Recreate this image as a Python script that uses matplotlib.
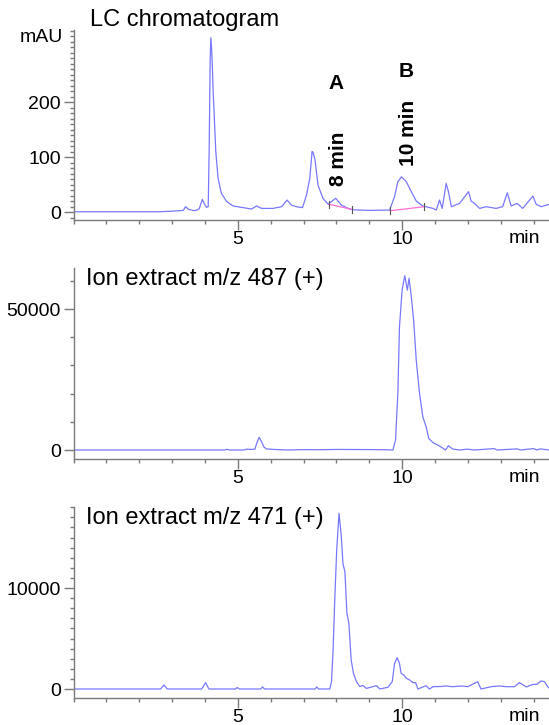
import numpy as np
import matplotlib
matplotlib.use("Agg")
import matplotlib.pyplot as plt
from matplotlib.ticker import MultipleLocator, FixedLocator

plt.rcParams['font.family'] = ['Liberation Sans', 'DejaVu Sans']
LINE = "#7878ff"; BASE = "#ff70d0"; AX = "#7a7a7a"

# ---- LC chromatogram (min, mAU) ----
lc_t = [0.0, 2.6, 3.0, 3.25, 3.34, 3.41, 3.5, 3.67, 3.78, 3.83, 3.92, 3.98, 4.05, 4.10, 4.13, 4.16,
        4.18, 4.21, 4.25, 4.33, 4.40, 4.50, 4.66, 4.86, 5.16, 5.42, 5.57, 5.72, 6.07, 6.33, 6.50,
        6.63, 6.78, 6.97, 7.09, 7.19, 7.26, 7.29, 7.35, 7.44, 7.59, 7.75, 7.85, 7.98, 8.15, 8.40,
        8.51, 9.0, 9.62, 9.77, 9.87, 9.98, 10.13, 10.28, 10.43, 10.63, 10.94, 11.04, 11.14, 11.22,
        11.34, 11.41, 11.50, 11.75, 12.02, 12.10, 12.2, 12.36, 12.56, 12.86, 13.06, 13.2, 13.32,
        13.50, 13.67, 13.98, 14.08, 14.23, 14.47]
lc_y = [0.5, 0.5, 1.5, 2.5, 3, 9.7, 5, 2.4, 4, 6.5, 23, 15, 8.5, 10, 120, 280,
        317, 290, 219, 110, 61, 34, 19, 11, 8, 5.5, 11, 6.6, 6.6, 9.7, 21.8,
        12.7, 9.7, 8, 31, 61, 110, 108, 95, 49, 25, 14, 19, 25, 12.7, 5.5,
        4, 3, 3.6, 28, 55, 64, 55, 37, 20, 11, 6.6, 3.6, 21.8, 6.6,
        52, 37, 9.7, 15.7, 37, 20, 15.7, 6.6, 9.7, 6.6, 9.7, 35, 11,
        15.7, 6.6, 29, 14, 9.7, 14]
baseA_t = [7.78, 8.46]; baseA_y = [14, 5]
baseB_t = [9.64, 10.66]; baseB_y = [2.4, 9.6]

# ---- ion extract m/z 487 ----
i487_t = [0, 4.6, 4.66, 4.75, 5.2, 5.26, 5.4, 5.52, 5.58, 5.65, 5.72, 5.80, 5.87, 6.1, 6.5, 7.0,
          7.5, 8.0, 9.0, 9.5, 9.72, 9.80, 9.87, 9.92, 10.0, 10.08, 10.16, 10.21, 10.28, 10.35,
          10.43, 10.53, 10.63, 10.73, 10.81, 10.94, 11.14, 11.32, 11.41, 11.54, 11.75, 11.98,
          12.2, 12.8, 12.9, 13.5, 13.6, 14.0, 14.1, 14.2, 14.47]
i487_y = [0, 0, 250, 0, 0, 300, 200, 300, 2500, 4500, 3000, 1000, 400, 200, 0, 150,
          100, 200, 150, 100, 0, 3550, 20100, 43700, 56700, 61800, 56700, 60900, 54400, 46100,
          31900, 20100, 11800, 8300, 4100, 2600, 1400, 0, 1500, 350, 0, 300,
          0, 500, 0, 400, 0, 500, 0, 400, 0]

# ---- ion extract m/z 471 ----
i471_t = [0, 2.65, 2.75, 2.85, 3.9, 4.02, 4.12, 4.93, 4.98, 5.05, 5.7, 5.75, 5.82, 7.35, 7.40,
          7.46, 7.80, 7.85, 7.90, 7.95, 8.01, 8.08, 8.15, 8.20, 8.26, 8.32, 8.38, 8.45, 8.52,
          8.61, 8.71, 8.81, 8.91, 9.22, 9.32, 9.57, 9.70, 9.77, 9.85, 9.92, 9.97, 10.05, 10.13,
          10.23, 10.33, 10.41, 10.48, 10.73, 10.83, 10.94, 11.19, 11.34, 11.54, 11.82, 12.0,
          12.3, 12.4, 12.71, 12.96, 13.17, 13.42, 13.57, 13.78, 13.98, 14.1, 14.23, 14.33,
          14.43, 14.47]
i471_y = [0, 0, 400, 0, 0, 630, 0, 0, 150, 0, 0, 200, 0, 0, 200,
          0, 0, 730, 3860, 8800, 13800, 17400, 15100, 12400, 11600, 7500, 6500, 2870, 1550,
          730, 250, 350, 60, 330, 0, 170, 730, 2540, 3100, 2540, 1550, 1390, 1060,
          890, 630, 630, 0, 330, 0, 230, 250, 300, 230, 300, 230,
          730, 0, 230, 300, 230, 230, 630, 200, 460, 460, 800, 730,
          230, 100]

fig = plt.figure(figsize=(5.49, 7.25), dpi=100)
L = 73.5/549; W = 1 - L

def panel(bottom, top, ylim, ymaj, ymin_step, title):
    ax = fig.add_axes([L, 1-bottom/725, W, (bottom-top)/725])
    ax.set_xlim(0, 14.47); ax.set_ylim(*ylim)
    for s in ['top', 'right']: ax.spines[s].set_visible(False)
    for s in ['left', 'bottom']: ax.spines[s].set_color(AX); ax.spines[s].set_linewidth(1)
    ax.xaxis.set_major_locator(FixedLocator([5, 10]))
    ax.xaxis.set_minor_locator(MultipleLocator(1))
    ax.yaxis.set_major_locator(FixedLocator(ymaj))
    ax.yaxis.set_minor_locator(MultipleLocator(ymin_step))
    ax.tick_params(which='major', length=7, width=1, color=AX, labelsize=14, pad=2)
    ax.tick_params(axis='x', which='major', pad=1)
    ax.tick_params(which='minor', length=3, width=1, color=AX)
    ax.annotate("min", xy=(13.72, 0), xycoords=('data', 'axes fraction'), xytext=(0, -13.5),
                textcoords='offset points', ha='center', va='center', fontsize=14, annotation_clip=False)
    ax.text(0.027, 0.94, title, transform=ax.transAxes, fontsize=17, va='center')
    return ax

ax1 = panel(220, 30, (-14.5, 331), [0, 100, 200], 10, "")
ax1.plot(lc_t, lc_y, color=LINE, lw=0.9)
ax1.plot(baseA_t, baseA_y, color=BASE, lw=0.9)
ax1.plot(baseB_t, baseB_y, color=BASE, lw=0.9)
for tt, yy in zip(baseA_t + baseB_t, baseA_y + baseB_y):
    ax1.plot([tt, tt], [yy - 6, yy + 6], color='#555555', lw=0.8)
fig.text(90/549, 1-20/725, "LC chromatogram", fontsize=17, va='center')
fig.text(63/549, 1-38/725, "mAU", fontsize=14, ha='right', va='center')
ax1.text(8.0, 234, "A", fontsize=15, fontweight='bold', ha='center', va='center')
ax1.text(10.12, 255, "B", fontsize=15, fontweight='bold', ha='center', va='center')
ax1.text(8.05, 96, "8 min", fontsize=15, fontweight='bold', ha='center', va='center', rotation=90)
ax1.text(10.2, 143, "10 min", fontsize=15, fontweight='bold', ha='center', va='center', rotation=90)

ax2 = panel(459, 268, (-3190, 64540), [0, 50000], 10000, "Ion extract m/z 487 (+)")
ax2.plot(i487_t, i487_y, color=LINE, lw=0.9)

ax3 = panel(698, 507, (-891, 18020), [0, 10000], 1000, "Ion extract m/z 471 (+)")
ax3.plot(i471_t, i471_y, color=LINE, lw=0.9)

fig.savefig("out.png", dpi=100)
